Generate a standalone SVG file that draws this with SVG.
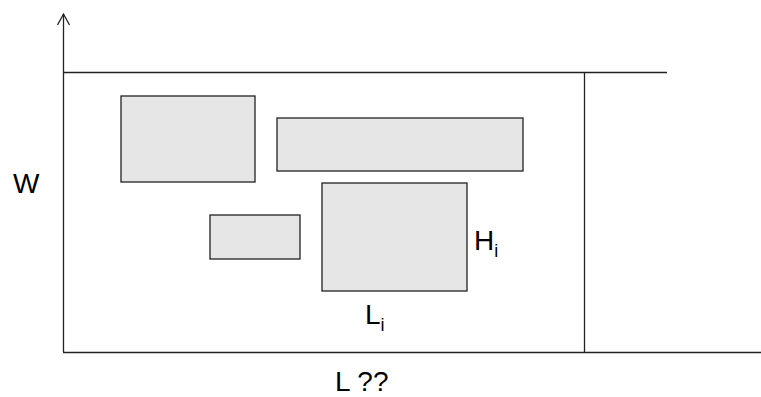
<svg xmlns="http://www.w3.org/2000/svg" width="761" height="397" viewBox="0 0 761 397">
<style>
.ln{stroke:#222;stroke-width:1.3;fill:none}
.box{fill:#e6e6e6;stroke:#222;stroke-width:1.3}
.t{font-family:"Liberation Sans",Arial,sans-serif;font-size:28px;fill:#000}
.s{font-size:18px}
</style>
<g id="connectors">
<line class="ln" x1="63.5" y1="14" x2="63.5" y2="352"/>
<polyline class="ln" points="57.5,25 63.5,14 69.5,25"/>
<line class="ln" x1="63" y1="352.5" x2="761" y2="352.5"/>
<line class="ln" x1="63" y1="72.5" x2="667" y2="72.5"/>
<line class="ln" x1="584.5" y1="72" x2="584.5" y2="352"/>
</g>
<g id="r1"><rect class="box" x="121" y="96" width="134" height="86"/></g>
<g id="r2"><rect class="box" x="277" y="118" width="246" height="53"/></g>
<g id="r3"><rect class="box" x="210" y="215" width="90" height="44"/></g>
<g id="r4"><rect class="box" x="322" y="183" width="145" height="108"/></g>
<g id="labelW"><text class="t" x="13" y="193">W</text></g>
<g id="labelH"><text class="t" x="474" y="250">H<tspan class="s" dy="7">i</tspan></text></g>
<g id="labelL"><text class="t" x="365" y="324">L<tspan class="s" dy="7">i</tspan></text></g>
<g id="labelLtot"><text class="t" x="335" y="391">L ??</text></g>
</svg>
